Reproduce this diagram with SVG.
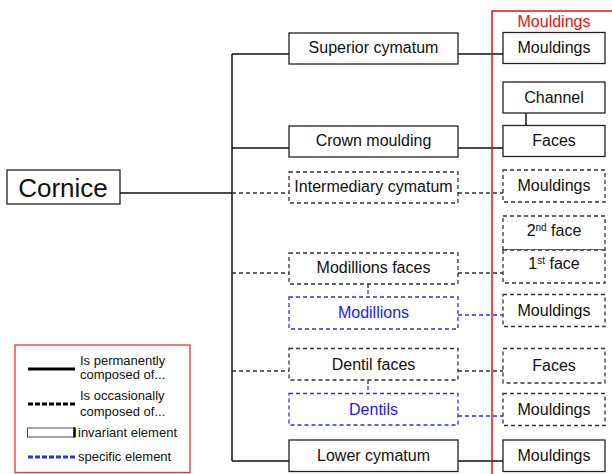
<svg xmlns="http://www.w3.org/2000/svg" width="612" height="474" viewBox="0 0 612 474">
<style>
text{font-family:"Liberation Sans",Arial,sans-serif;fill:#111}
.t{font-size:16px;text-anchor:middle}
.box{fill:#fff;stroke:#222;stroke-width:1.3}
.dbox{fill:#fff;stroke:#333;stroke-width:1.3;stroke-dasharray:4,3}
.bbox{fill:#fff;stroke:#2233ee;stroke-width:1.3;stroke-dasharray:4,3}
.s{stroke:#111;stroke-width:1.5;fill:none}
.d{stroke:#333;stroke-width:1.3;stroke-dasharray:4,3;fill:none}
.b{stroke:#2233ee;stroke-width:1.3;stroke-dasharray:4,3;fill:none}
.blue{fill:#1a1aff}
.lg{font-size:13px}
</style>
<rect width="612" height="474" fill="#fff"/>
<g id="connectors">
<path class="s" d="M120 193H232M232 54V461M232 54H289M232 148H289M232 461H289"/>
<path class="d" d="M232 193H289M232 273H289M232 371H289"/>
<path class="s" d="M458 54H503M458 148H503M458 461H503M526 113V125"/>
<path class="d" d="M458 193H503M458 273H503M458 371H503M368 284V290"/>
<path class="d" d="M368 380V386"/>
<path class="b" d="M458 315H503M458 416H503M368 290V297M368 386V393"/>
</g>
<rect x="492" y="11" width="130" height="480" fill="none" stroke="#ee1111" stroke-width="1.5"/>
<text x="554" y="26.5" font-size="16" text-anchor="middle" style="fill:#ee1111">Mouldings</text>
<g id="cornice"><rect class="box" x="7" y="170" width="113" height="34"/><text x="63" y="197" font-size="26" text-anchor="middle">Cornice</text></g>
<g id="superior"><rect class="box" x="289" y="33" width="169" height="31"/><text class="t" x="373.5" y="53">Superior cymatum</text></g>
<g id="crown"><rect class="box" x="289" y="126" width="169" height="31"/><text class="t" x="373.5" y="146">Crown moulding</text></g>
<g id="intermediary"><rect class="dbox" x="289" y="172" width="169" height="31"/><text class="t" x="373.5" y="192">Intermediary cymatum</text></g>
<g id="modfaces"><rect class="dbox" x="289" y="253" width="169" height="31"/><text class="t" x="373.5" y="273">Modillions faces</text></g>
<g id="modillions"><rect class="bbox" x="289" y="297" width="169" height="32"/><text class="t blue" x="373.5" y="318">Modillions</text></g>
<g id="dentfaces"><rect class="dbox" x="289" y="348.5" width="169" height="31.5"/><text class="t" x="373.5" y="370">Dentil faces</text></g>
<g id="dentils"><rect class="bbox" x="289" y="393.5" width="169" height="31.5"/><text class="t blue" x="373.5" y="415">Dentils</text></g>
<g id="lower"><rect class="box" x="289" y="440" width="169" height="31.5"/><text class="t" x="373.5" y="461">Lower cymatum</text></g>
<g id="r-mould1"><rect class="box" x="503" y="32.5" width="102" height="31"/><text class="t" x="554" y="53">Mouldings</text></g>
<g id="r-channel"><rect class="box" x="503" y="82" width="102" height="31"/><text class="t" x="554" y="103">Channel</text></g>
<g id="r-faces1"><rect class="box" x="503" y="125.5" width="102" height="31"/><text class="t" x="554" y="146">Faces</text></g>
<g id="r-mould2"><rect class="dbox" x="503" y="170" width="102" height="32"/><text class="t" x="554" y="191">Mouldings</text></g>
<g id="r-2face"><rect class="dbox" x="503" y="216" width="102" height="34"/><text class="t" x="554" y="236">2<tspan font-size="10" dy="-5">nd</tspan><tspan dy="5"> face</tspan></text></g>
<g id="r-1face"><rect class="dbox" x="503" y="250" width="102" height="33"/><text class="t" x="554" y="269">1<tspan font-size="10" dy="-5">st</tspan><tspan dy="5"> face</tspan></text></g>
<g id="r-mould3"><rect class="dbox" x="503" y="294.5" width="102" height="32"/><text class="t" x="554" y="316">Mouldings</text></g>
<g id="r-faces2"><rect class="dbox" x="503" y="348.5" width="102" height="34.5"/><text class="t" x="554" y="371">Faces</text></g>
<g id="r-mould4"><rect class="dbox" x="503" y="393.5" width="102" height="32"/><text class="t" x="554" y="415">Mouldings</text></g>
<g id="r-mould5"><rect class="box" x="503" y="440" width="102" height="31.5"/><text class="t" x="554" y="461">Mouldings</text></g>
<g id="legend">
<rect x="15" y="345" width="175" height="127.5" fill="#fff" stroke="#ee3333" stroke-width="1.3"/>
<line x1="28" y1="369" x2="75" y2="369" stroke="#000" stroke-width="3"/>
<text class="lg" x="80" y="365">Is permanently</text>
<text class="lg" x="80" y="379">composed  of...</text>
<line x1="28" y1="404" x2="75" y2="404" stroke="#000" stroke-width="3" stroke-dasharray="5,2"/>
<text class="lg" x="80" y="400">Is occasionally</text>
<text class="lg" x="80" y="415.5">composed  of...</text>
<rect x="27.5" y="428" width="47" height="9" fill="#fff" stroke="#222" stroke-width="0.8"/>
<line x1="74.5" y1="427.5" x2="74.5" y2="437.5" stroke="#000" stroke-width="2.5"/>
<text class="lg" x="78" y="437">invariant element</text>
<line x1="28" y1="457" x2="75" y2="457" stroke="#2233ee" stroke-width="3" stroke-dasharray="5,2"/>
<text class="lg" x="78" y="461">specific element</text>
</g>
</svg>
